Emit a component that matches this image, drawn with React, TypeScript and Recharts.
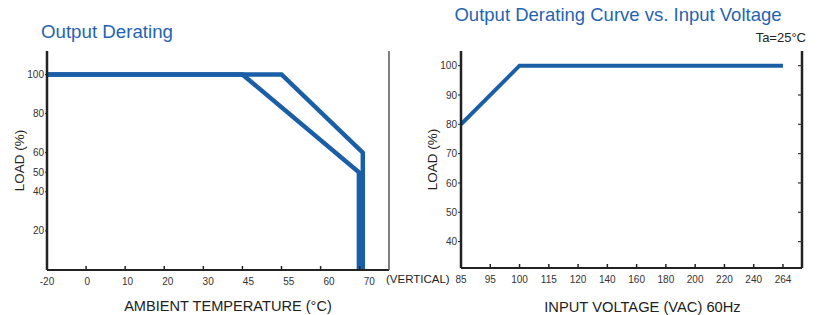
import React from 'react'
import { LineChart, Line, XAxis, YAxis, Label } from 'recharts'

// Output derating vs ambient temperature (x = position of the category tick)
const tempLabels = ['-20', '0', '10', '20', '30', '45', '55', '60', '70']
const tempLoadTicks = [20, 40, 50, 60, 80, 100]
const lowerCurve = [
  { x: 0, y: 100 },
  { x: 5, y: 100 },
  { x: 7.98, y: 50 },
  { x: 7.98, y: 0 },
]
const upperCurve = [
  { x: 0, y: 100 },
  { x: 6, y: 100 },
  { x: 8.08, y: 60 },
  { x: 8.08, y: 0 },
]

// Output derating vs input voltage
const voltLabels = ['85', '95', '100', '115', '120', '140', '160', '180', '200', '220', '240', '264']
const voltLoadTicks = [40, 50, 60, 70, 80, 90, 100]
const voltCurve = [
  { x: 0, y: 80 },
  { x: 2, y: 100 },
  { x: 11, y: 100 },
]

const BLUE = '#1b5ea8'
const TITLE = '#1f64b2'
const FONT = "Arial, 'Liberation Sans', sans-serif"

// tick mark points up into the plot, label sits below the axis
const bottomTick = (labels: string[], drift = 0) => (props: any) => {
  const { x, y, payload } = props
  return (
    <g>
      <line x1={x} x2={x} y1={y - 4} y2={y} stroke="#222" strokeWidth={1.5} />
      <text
        x={x + payload.value * drift}
        y={y + 15}
        textAnchor="middle"
        fontSize={10}
        fill="#333"
        fontFamily={FONT}
      >
        {labels[payload.value]}
      </text>
    </g>
  )
}

const rightTick = (color: string) => (props: any) => {
  const { x, y } = props
  return <line x1={x - 4} x2={x} y1={y} y2={y} stroke={color} strokeWidth={1.2} />
}

function TemperatureChart() {
  return (
    <LineChart width={420} height={315} margin={{ top: 51, right: 30, left: 7, bottom: 0 }}>
      <XAxis
        type="number"
        dataKey="x"
        domain={[0, 8.75]}
        ticks={tempLabels.map((_, i) => i)}
        tick={bottomTick(tempLabels, 1.2)}
        tickLine={false}
        tickSize={0}
        tickMargin={0}
        height={45}
        axisLine={{ stroke: '#222', strokeWidth: 2 }}
        allowDataOverflow
      >
        <Label
          value="AMBIENT TEMPERATURE (°C)"
          position="insideBottom"
          offset={4}
          dx={10}
          style={{ fontSize: 14.6, fill: '#222', fontFamily: FONT }}
        />
      </XAxis>
      <YAxis
        yAxisId="l"
        type="number"
        domain={[0, 112]}
        ticks={tempLoadTicks}
        width={40}
        tickSize={2}
        tickMargin={1}
        tick={{ fontSize: 10, fill: '#333', fontFamily: FONT }}
        tickLine={{ stroke: '#222' }}
        axisLine={{ stroke: '#222', strokeWidth: 2.5 }}
      >
        <Label
          value="LOAD (%)"
          angle={-90}
          position="insideLeft"
          offset={12}
          style={{ textAnchor: 'middle', fontSize: 13.5, fill: '#222', fontFamily: FONT }}
        />
      </YAxis>
      <YAxis
        yAxisId="r"
        orientation="right"
        type="number"
        domain={[0, 112]}
        ticks={tempLoadTicks}
        width={1}
        tickSize={0}
        tickMargin={0}
        tickLine={false}
        tick={rightTick('#2b3f9c')}
        axisLine={{ stroke: '#555', strokeWidth: 1.5 }}
      />
      <Line
        yAxisId="l"
        data={lowerCurve}
        dataKey="y"
        type="linear"
        stroke={BLUE}
        strokeWidth={4.5}
        strokeLinejoin="miter"
        dot={false}
        activeDot={false}
        isAnimationActive={false}
      />
      <Line
        yAxisId="l"
        data={upperCurve}
        dataKey="y"
        type="linear"
        stroke={BLUE}
        strokeWidth={4.5}
        strokeLinejoin="miter"
        dot={false}
        activeDot={false}
        isAnimationActive={false}
      />
    </LineChart>
  )
}

function VoltageChart() {
  return (
    <LineChart width={412} height={315} margin={{ top: 51, right: 19, left: 11, bottom: 0 }}>
      <XAxis
        type="number"
        dataKey="x"
        domain={[0, 11.65]}
        ticks={voltLabels.map((_, i) => i)}
        tick={bottomTick(voltLabels)}
        tickLine={false}
        tickSize={0}
        tickMargin={0}
        height={47}
        axisLine={{ stroke: '#222', strokeWidth: 2 }}
        allowDataOverflow
      >
        <Label
          value="INPUT VOLTAGE (VAC) 60Hz"
          position="insideBottom"
          offset={3}
          dx={11}
          style={{ fontSize: 14.7, fill: '#222', fontFamily: FONT }}
        />
      </XAxis>
      <YAxis
        yAxisId="l"
        type="number"
        domain={[31, 105]}
        ticks={voltLoadTicks}
        width={40}
        tickSize={3}
        tickMargin={1}
        tick={{ fontSize: 10, fill: '#333', fontFamily: FONT }}
        tickLine={{ stroke: '#222' }}
        axisLine={{ stroke: '#222', strokeWidth: 2.5 }}
        allowDataOverflow
      >
        <Label
          value="LOAD (%)"
          angle={-90}
          position="insideLeft"
          offset={11}
          style={{ textAnchor: 'middle', fontSize: 13.5, fill: '#222', fontFamily: FONT }}
        />
      </YAxis>
      <YAxis
        yAxisId="r"
        orientation="right"
        type="number"
        domain={[31, 105]}
        ticks={voltLoadTicks}
        width={1}
        tickSize={0}
        tickMargin={0}
        tickLine={false}
        tick={rightTick('#333')}
        axisLine={{ stroke: '#222', strokeWidth: 2.5 }}
        allowDataOverflow
      />
      <Line
        yAxisId="l"
        data={voltCurve}
        dataKey="y"
        type="linear"
        stroke={BLUE}
        strokeWidth={4}
        strokeLinejoin="miter"
        dot={false}
        activeDot={false}
        isAnimationActive={false}
      />
    </LineChart>
  )
}

export default function App() {
  return (
    <div
      style={{
        position: 'absolute',
        left: 0,
        top: 0,
        width: 822,
        height: 315,
        background: '#fff',
        fontFamily: FONT,
        overflow: 'hidden',
      }}
    >
      <div style={{ position: 'absolute', left: 0, top: 0 }}>
        <TemperatureChart />
      </div>
      <div style={{ position: 'absolute', left: 410, top: 0 }}>
        <VoltageChart />
      </div>
      <div style={{ position: 'absolute', left: 41, top: 22, fontSize: 18.7, lineHeight: '20px', color: TITLE }}>
        Output Derating
      </div>
      <div
        style={{
          position: 'absolute',
          left: 412,
          top: 5,
          width: 412,
          textAlign: 'center',
          fontSize: 18.5,
          lineHeight: '20px',
          color: TITLE,
        }}
      >
        Output Derating Curve vs. Input Voltage
      </div>
      <div style={{ position: 'absolute', right: 16, top: 31, fontSize: 13, lineHeight: '14px', color: '#222' }}>
        Ta=25°C
      </div>
      <div style={{ position: 'absolute', left: 386, top: 272, fontSize: 11.5, lineHeight: '14px', color: '#222' }}>
        (VERTICAL)
      </div>
    </div>
  )
}
